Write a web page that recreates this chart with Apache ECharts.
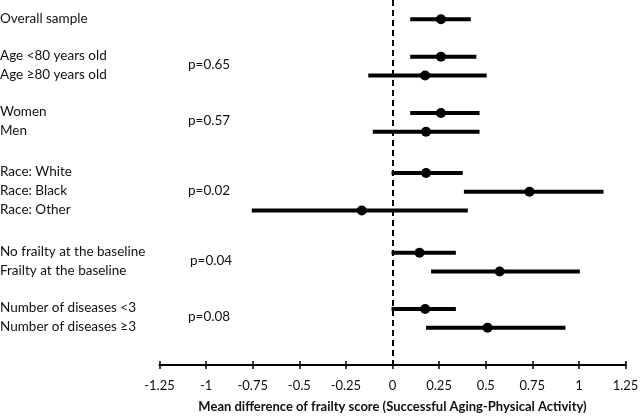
<!DOCTYPE html>
<html>
<head>
<meta charset="utf-8">
<script src="https://cdn.jsdelivr.net/npm/echarts@6/dist/echarts.min.js"></script>
<style>html,body{margin:0;padding:0;background:#fff}#c{width:640px;height:417px}</style>
</head>
<body>
<div id="c"></div>
<script>
const labels = ['Overall sample','Age <80 years old','Age \u226580 years old','Women','Men','Race: White','Race: Black','Race: Other','No frailty at the baseline','Frailty at the baseline','Number of diseases <3','Number of diseases \u22653'];
const estimates = [0.26, 0.26, 0.175, 0.26, 0.18, 0.18, 0.735, -0.165, 0.145, 0.575, 0.175, 0.51];
const lower     = [0.095, 0.095, -0.13, 0.095, -0.106, -0.005, 0.383, -0.755, -0.005, 0.207, -0.005, 0.18];
const upper     = [0.42, 0.45, 0.505, 0.467, 0.467, 0.377, 1.132, 0.404, 0.34, 1.005, 0.34, 0.928];
const groupSizes = [1, 2, 2, 3, 2, 2];
const pValues = ['', 'p=0.65', 'p=0.57', 'p=0.02', 'p=0.04', 'p=0.08'];
const xTickLabels = ['-1.25','-1','-0.75','-0.5','-0.25','0','0.25','0.5','0.75','1','1.25'];
const xTitle = 'Mean difference of frailty score (Successful Aging-Physical Activity)';

// row order on the (hidden) y scale: step 1 within a group, a larger step between groups
const groupSteps = [0, 2, 2, 2.2, 2.25, 2];
const rowPos = [];
const groupMid = [];
let pos = 0;
groupSizes.forEach((n, g) => {
  pos += groupSteps[g];
  const start = pos;
  for (let i = 0; i < n; i++) { rowPos.push(pos); if (i < n - 1) pos += 1; }
  groupMid.push((start + pos) / 2);
});

const rows = labels.map((l, i) => [lower[i], upper[i], estimates[i], rowPos[i], i]);
const pData = pValues.map((p, g) => [groupMid[g], g]).filter((d, g) => pValues[g]);

const FONT = 'Lato';
const chart = echarts.init(document.getElementById('c'), null, {renderer: 'canvas'});
chart.setOption({
  animation: false,
  grid: {left: 159.5, right: 14.5, top: 0, bottom: 52, containLabel: false, outerBoundsMode: 'none'},
  xAxis: [{
    type: 'value', min: -1.25, max: 1.25, interval: 0.25, position: 'bottom',
    name: xTitle, nameLocation: 'middle', nameGap: 35,
    nameTextStyle: {fontFamily: FONT, fontSize: 13, fontWeight: 'bold', color: '#111'},
    axisLine: {onZero: false, lineStyle: {color: '#000', width: 2}},
    axisTick: {show: true, length: 4, lineStyle: {color: '#000', width: 1.5}},
    axisLabel: {fontFamily: FONT, fontSize: 13, color: '#111', margin: 14,
      formatter: (v) => xTickLabels[Math.round((v + 1.25) / 0.25)]},
    splitLine: {show: false}
  }, {
    type: 'value', min: -1.25, max: 1.25, interval: 0.25, position: 'bottom', offset: 0,
    axisLine: {show: false, onZero: false},
    axisTick: {show: true, inside: true, length: 4, lineStyle: {color: '#000', width: 1.5}},
    axisLabel: {show: false}, splitLine: {show: false}
  }],
  yAxis: {
    type: 'value', inverse: true, min: -1.03, max: 18.44,
    show: false
  },
  series: [{
    type: 'custom',
    xAxisIndex: 0,
    data: rows,
    clip: false,
    renderItem: (params, api) => {
      const lo = api.coord([api.value(0), api.value(3)]);
      const hi = api.coord([api.value(1), api.value(3)]);
      const est = api.coord([api.value(2), api.value(3)]);
      const idx = api.value(4);
      return {
        type: 'group',
        children: [
          {type: 'line', shape: {x1: lo[0], y1: lo[1], x2: hi[0], y2: hi[1]},
           style: {stroke: '#000', lineWidth: 4}},
          {type: 'circle', shape: {cx: est[0], cy: est[1], r: 5}, style: {fill: '#000'}},
          {type: 'text', x: 0, y: est[1] - 1,
           style: {text: labels[idx], fontFamily: FONT, fontSize: 13.5, fill: '#111',
                   textAlign: 'left', textVerticalAlign: 'middle'}}
        ]
      };
    },
    markLine: {
      silent: true, symbol: 'none', label: {show: false},
      lineStyle: {color: '#000', type: [6, 4], width: 2},
      data: [{xAxis: 0}]
    }
  }, {
    type: 'custom',
    xAxisIndex: 1,
    data: pData,
    clip: false,
    renderItem: (params, api) => {
      const p = api.coord([0, api.value(0)]);
      const g = api.value(1);
      return {type: 'text', x: g === 4 ? 190 : 188, y: p[1] - 1.5,
        style: {text: pValues[g], fontFamily: FONT, fontSize: 13.5, fill: '#111',
                textAlign: 'left', textVerticalAlign: 'middle'}};
    }
  }]
});
</script>
</body>
</html>
